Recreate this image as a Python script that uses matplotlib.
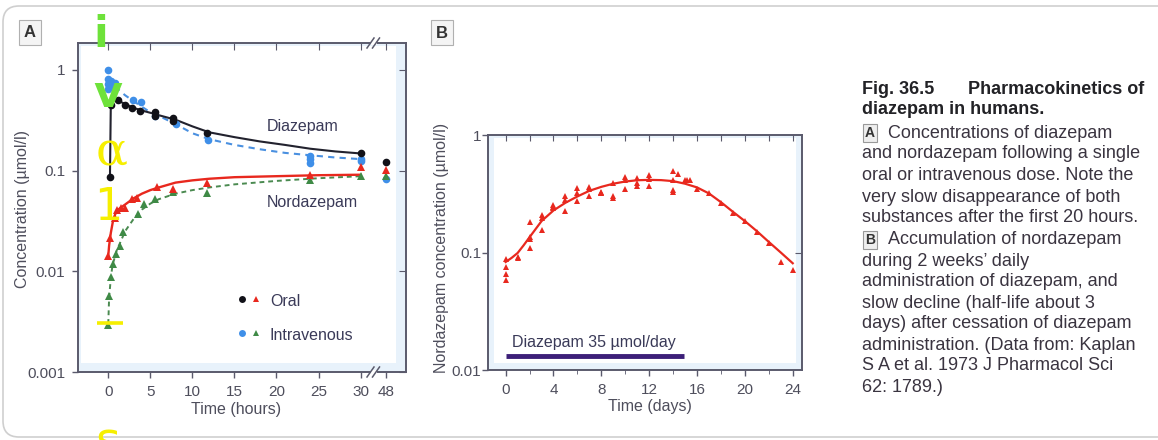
import numpy as np
import matplotlib
matplotlib.use('Agg')
import matplotlib.pyplot as plt
from matplotlib.patches import FancyBboxPatch, Rectangle

W, H = 1158, 440
plt.rcParams['font.family'] = ['Liberation Sans', 'DejaVu Sans']

# ---------------- Panel A data (hours, umol/l) ----------------
hour_ticks = [0, 5, 10, 15, 20, 25, 30, 48]

oral_dz_t = [0.2, 0.3, 1.2, 2.0, 2.8, 3.8, 5.6, 5.6, 7.7, 7.7, 11.7, 30, 48]
oral_dz_c = [0.087, 0.45, 0.50, 0.45, 0.42, 0.39, 0.38, 0.35, 0.33, 0.31, 0.235, 0.148, 0.123]

iv_dz_t = [0, 0, 0, 0, 0.3, 0.5, 0.8, 2.9, 3.9, 5.6, 8, 11.8, 24, 24, 24, 30, 30, 48]
iv_dz_c = [1.0, 0.81, 0.72, 0.65, 0.78, 0.68, 0.74, 0.50, 0.48, 0.35, 0.29, 0.20,
           0.14, 0.13, 0.12, 0.13, 0.125, 0.083]

oral_nd_t = [0, 0.25, 0.75, 1.0, 1.5, 2.0, 2.8, 3.4, 5.8, 7.7, 11.7, 24, 30, 48]
oral_nd_c = [0.0143, 0.0214, 0.034, 0.041, 0.043, 0.043, 0.052, 0.054, 0.069, 0.065,
             0.075, 0.091, 0.109, 0.102]

iv_nd_t = [0, 0.12, 0.32, 0.52, 0.92, 1.4, 1.8, 3.5, 4.2, 5.6, 7.7, 11.7, 24, 30, 48]
iv_nd_c = [0.0029, 0.0057, 0.0087, 0.0118, 0.0149, 0.018, 0.0244, 0.037, 0.047, 0.052,
           0.061, 0.060, 0.080, 0.088, 0.089]

# fitted curves
oral_dz_fit_t = [0.2, 0.3, 0.6, 1, 2, 3, 4, 5, 6, 8, 10, 12, 15, 18, 21, 24, 27, 30]
oral_dz_fit_c = [0.087, 0.45, 0.53, 0.50, 0.46, 0.42, 0.395, 0.375, 0.355, 0.32, 0.275,
                 0.24, 0.215, 0.195, 0.18, 0.165, 0.155, 0.148]
iv_dz_fit_t = [0, 0.5, 1, 2, 3, 4, 5, 6, 8, 10, 12, 15, 18, 21, 24, 27, 30]
iv_dz_fit_c = [0.85, 0.75, 0.66, 0.56, 0.49, 0.43, 0.38, 0.35, 0.29, 0.235, 0.205, 0.18,
               0.163, 0.15, 0.142, 0.135, 0.13]
oral_nd_fit_t = [0, 0.1, 0.3, 0.6, 1, 1.5, 2, 3, 4, 5, 6, 8, 10, 12, 15, 20, 25, 30]
oral_nd_fit_c = [0.0143, 0.018, 0.024, 0.033, 0.040, 0.043, 0.046, 0.053, 0.059, 0.064,
                 0.068, 0.076, 0.080, 0.083, 0.086, 0.088, 0.090, 0.091]
iv_nd_fit_t = [0, 0.1, 0.3, 0.5, 1, 1.5, 2, 3, 4, 5, 6, 8, 10, 12, 15, 20, 25, 30]
iv_nd_fit_c = [0.003, 0.0055, 0.0085, 0.0115, 0.016, 0.020, 0.025, 0.033, 0.041, 0.047,
               0.052, 0.059, 0.064, 0.068, 0.073, 0.079, 0.084, 0.088]

# ---------------- Panel B data (days, umol/l) ----------------
day_ticks = [0, 4, 8, 12, 16, 20, 24]
b_days = [0, 0, 0, 0, 1, 1, 2, 2, 2, 2, 3, 3, 3, 4, 4, 4, 5, 5, 5, 6, 6, 6, 7, 7, 7,
          8, 8, 8, 9, 9, 9, 10, 10, 10, 11, 11, 11, 12, 12, 12, 14, 14, 14, 14, 14.4,
          15, 15.2, 15.4, 16, 17, 18, 19, 20, 21, 22, 23, 24]
b_conc = [0.0875, 0.076, 0.066, 0.058, 0.092, 0.090, 0.183, 0.135, 0.11, 0.13,
          0.209, 0.195, 0.155, 0.254, 0.238, 0.245, 0.30, 0.28, 0.227, 0.352, 0.32,
          0.276, 0.363, 0.345, 0.30, 0.32, 0.32, 0.33, 0.39, 0.30, 0.29, 0.44, 0.41,
          0.35, 0.43, 0.39, 0.37, 0.457, 0.42, 0.37, 0.49, 0.41, 0.34, 0.33, 0.47,
          0.41, 0.41, 0.41, 0.35, 0.32, 0.262, 0.215, 0.185, 0.15, 0.121, 0.0835, 0.071]
b_fit_days = [0, 0.5, 1, 1.5, 2, 3, 4, 5, 6, 7, 8, 9, 10, 11, 12, 13, 14, 15, 16, 17,
              18, 19, 20, 21, 22, 23, 24]
b_fit_conc = [0.083, 0.09, 0.099, 0.115, 0.135, 0.185, 0.228, 0.265, 0.30, 0.335,
              0.362, 0.385, 0.402, 0.412, 0.415, 0.413, 0.405, 0.385, 0.358, 0.318,
              0.268, 0.222, 0.185, 0.152, 0.123, 0.10, 0.081]
dose_start, dose_end = 0, 14.9
dose_label = 'Diazepam 35 µmol/day'


def xpos(t):
    t = np.asarray(t, dtype=float)
    return np.where(t > 30, 33.0, t)


fig = plt.figure(figsize=(W / 100, H / 100), dpi=100)

# background axes in pixel coordinates
bg = fig.add_axes([0, 0, 1, 1], zorder=-5)
bg.set_xlim(0, W)
bg.set_ylim(H, 0)
bg.axis('off')
bg.add_patch(FancyBboxPatch((3, 6), 1250, 431, boxstyle='round,pad=0,rounding_size=16',
                            fc='white', ec='#cfcfcf', lw=1.2))

axis_col = '#5a5a6c'
tick_col = '#4e4e5c'
glow = '#e8f2fb'


def style(ax):
    for s in ax.spines.values():
        s.set_color(axis_col)
        s.set_linewidth(1.4)
    ax.tick_params(colors=axis_col, labelcolor=tick_col, labelsize=11, width=1.0)


# ---------------- Panel A ----------------
axA = fig.add_axes([78 / W, 1 - 372 / H, 328 / W, 329 / H])
axA.set_yscale('log')
axA.set_xlim(-3.6, 35.4)
axA.set_ylim(0.001, 1.85)
style(axA)
for (x0, y0, w, h) in [(0, 0, 1, 9 / 329), (1 - 10 / 328, 0, 10 / 328, 1),
                       (0, 1 - 3 / 329, 1, 3 / 329), (0, 0, 3 / 328, 1)]:
    axA.add_patch(Rectangle((x0, y0), w, h, transform=axA.transAxes, fc=glow,
                            ec='none', zorder=0))

axA.plot(xpos(oral_dz_fit_t), oral_dz_fit_c, color='#22222e', lw=1.5, zorder=3)
axA.plot(xpos(iv_dz_fit_t), iv_dz_fit_c, color='#4a90e0', lw=1.5, dashes=(3, 2.5), zorder=2)
axA.plot(xpos(oral_nd_fit_t), oral_nd_fit_c, color='#e8281e', lw=1.7, zorder=3)
axA.plot(xpos(iv_nd_fit_t), iv_nd_fit_c, color='#4a8a50', lw=1.4, dashes=(2.5, 2), zorder=2)

axA.plot(xpos(iv_dz_t), iv_dz_c, 'o', color='#3f8fe8', ms=5.5, mew=0, zorder=4)
axA.plot(xpos(oral_dz_t), oral_dz_c, 'o', color='#111118', ms=5.5, mew=0, zorder=5)
axA.plot(xpos(iv_nd_t), iv_nd_c, '^', color='#3f8a46', ms=5.5, mew=0, zorder=4)
axA.plot(xpos(oral_nd_t), oral_nd_c, '^', color='#e8281e', ms=5.5, mew=0, zorder=5)

axA.set_xticks(xpos(hour_ticks))
axA.set_xticklabels([str(h) for h in hour_ticks])
axA.set_yticks([0.001, 0.01, 0.1, 1])
axA.set_yticklabels(['0.001', '0.01', '0.1', '1'])
axA.minorticks_off()
axA.tick_params(direction='out', length=4, pad=5)
axA.set_xlabel('Time (hours)', fontsize=11.5, color=tick_col)
axA.set_ylabel('Concentration (µmol/l)', fontsize=11.5, color=tick_col)
axA.xaxis.set_label_coords(0.482, -0.09)
axA.yaxis.set_label_coords(-0.145, 0.495)

axA.text(0.576, 0.745, 'Diazepam', transform=axA.transAxes, fontsize=11.5,
         color='#3a3a58', va='center')
axA.text(0.576, 0.514, 'Nordazepam', transform=axA.transAxes, fontsize=11.5,
         color='#3a3a58', va='center')
# legend
axA.plot([0.501], [0.222], 'o', color='#111118', ms=5, mew=0, transform=axA.transAxes)
axA.plot([0.543], [0.222], '^', color='#e8281e', ms=5, mew=0, transform=axA.transAxes)
axA.plot([0.501], [0.1185], 'o', color='#3f8fe8', ms=5, mew=0, transform=axA.transAxes)
axA.plot([0.543], [0.1185], '^', color='#3f8a46', ms=5, mew=0, transform=axA.transAxes)
axA.text(0.585, 0.214, 'Oral', transform=axA.transAxes, fontsize=11.5, color='#3a3a58',
         va='center')
axA.text(0.585, 0.11, 'Intravenous', transform=axA.transAxes, fontsize=11.5,
         color='#3a3a58', va='center')

# inward ticks on top and right
axAt = axA.twiny()
axAt.set_xlim(axA.get_xlim())
axAt.set_xticks(xpos(hour_ticks))
axAt.set_xticklabels([])
axAt.tick_params(direction='in', length=5, colors=axis_col)
axAr = axA.twinx()
axAr.set_yscale('log')
axAr.set_ylim(axA.get_ylim())
axAr.set_yticks([0.001, 0.01, 0.1, 1])
axAr.set_yticklabels([])
axAr.minorticks_off()
axAr.tick_params(direction='in', length=5, colors=axis_col)
for a in (axAt, axAr):
    for s in a.spines.values():
        s.set_visible(False)

# ---------------- Panel B ----------------
axB = fig.add_axes([488.3 / W, 1 - 370 / H, 313.4 / W, 235 / H])
axB.set_yscale('log')
axB.set_xlim(-1.45, 24.75)
axB.set_ylim(0.01, 1)
style(axB)
for (x0, y0, w, h) in [(0, 0, 1, 7 / 235), (1 - 6 / 313, 0, 6 / 313, 1),
                       (0, 1 - 3 / 235, 1, 3 / 235), (0, 0, 6 / 313, 1)]:
    axB.add_patch(Rectangle((x0, y0), w, h, transform=axB.transAxes, fc=glow,
                            ec='none', zorder=0))
axB.plot(b_fit_days, b_fit_conc, color='#e8281e', lw=1.6, zorder=3)
axB.plot(b_days, b_conc, '^', color='#e8281e', ms=4.2, mew=0, zorder=4)
axB.plot([dose_start, dose_end], [0.01315, 0.01315], color='#3c1f78', lw=3.5,
         solid_capstyle='butt', zorder=3)
axB.text(dose_start + 0.5, 0.0172, dose_label, fontsize=11.5, color='#3a3a58', va='center')
axB.set_xticks(day_ticks)
axB.set_xticks(np.arange(0, 25, 2), minor=True)
axB.set_yticks([0.01, 0.1, 1])
axB.set_yticklabels(['0.01', '0.1', '1'])
axB.yaxis.set_minor_locator(matplotlib.ticker.NullLocator())
axB.tick_params(direction='out', length=4)
axB.tick_params(axis='x', which='minor', direction='out', length=3, color=axis_col)
axB.tick_params(axis='x', pad=5)
axB.tick_params(axis='y', pad=1)
axB.set_xlabel('Time (days)', fontsize=11.5, color=tick_col)
axB.set_ylabel('Nordazepam concentration (µmol/l)', fontsize=11.5, color=tick_col)
axB.xaxis.set_label_coords(0.516, -0.125)
axB.yaxis.set_label_coords(-0.125, 0.519)
axBt = axB.twiny()
axBt.set_xlim(axB.get_xlim())
axBt.set_xticks(np.arange(0, 25, 2))
axBt.set_xticklabels([])
axBt.tick_params(direction='in', length=4, colors=axis_col)
axBr = axB.twinx()
axBr.set_yscale('log')
axBr.set_ylim(axB.get_ylim())
axBr.set_yticks([0.1])
axBr.set_yticklabels([])
axBr.yaxis.set_minor_locator(matplotlib.ticker.NullLocator())
axBr.tick_params(direction='in', length=5, colors=axis_col)
for a in (axBt, axBr):
    for s in a.spines.values():
        s.set_visible(False)

# ---------------- text in pixel coords ----------------
bg.text(29.5, 32.5, 'A', fontsize=12, fontweight='bold', color='#333', ha='center',
        va='center', bbox=dict(boxstyle='square,pad=0.3', fc='#f4f4f4', ec='#b0b0b0', lw=0.8))
bg.text(442, 33, 'B', fontsize=12, fontweight='bold', color='#333', ha='center',
        va='center', bbox=dict(boxstyle='square,pad=0.3', fc='#f4f4f4', ec='#b0b0b0', lw=0.8))

cap_col = '#3a3440'
x0 = 862
bg.text(x0, 90, 'Fig. 36.5', fontsize=13, fontweight='bold', color='#222226', va='center')
bg.text(968, 90, 'Pharmacokinetics of', fontsize=13, fontweight='bold',
        color='#222226', va='center')
bg.text(x0, 110, 'diazepam in humans.', fontsize=13, fontweight='bold',
        color='#222226', va='center')
lines = [
    (133, 'A', 'Concentrations of diazepam'),
    (154, None, 'and nordazepam following a single'),
    (175, None, 'oral or intravenous dose. Note the'),
    (197, None, 'very slow disappearance of both'),
    (218, None, 'substances after the first 20 hours.'),
    (240, 'B', 'Accumulation of nordazepam'),
    (261, None, 'during 2 weeks\u2019 daily'),
    (282, None, 'administration of diazepam, and'),
    (303, None, 'slow decline (half-life about 3'),
    (324, None, 'days) after cessation of diazepam'),
    (345, None, 'administration. (Data from: Kaplan'),
    (366, None, 'S A et al. 1973 J Pharmacol Sci'),
    (388, None, '62: 1789.)'),
]
for y, box, txt in lines:
    if box:
        bg.text(870, y, box, fontsize=10, fontweight='bold', color='#333', ha='center',
                va='center', bbox=dict(boxstyle='square,pad=0.12', fc='#eeeeee',
                                       ec='#999999', lw=0.8))
        bg.text(888, y, txt, fontsize=13, color=cap_col, va='center')
    else:
        bg.text(x0, y, txt, fontsize=13, color=cap_col, va='center')

# ---------------- overlay: axis breaks and coloured glyphs ----------------
ov = fig.add_axes([0, 0, 1, 1], zorder=20)
ov.set_xlim(0, W)
ov.set_ylim(H, 0)
ov.axis('off')
ov.patch.set_alpha(0)
for yb in (43, 372):
    ov.add_patch(Rectangle((370.5, yb - 2), 6, 4, fc='white', ec='none'))
    ov.plot([367, 374], [yb + 5, yb - 5], color=axis_col, lw=1.1)
    ov.plot([372.5, 379.5], [yb + 5, yb - 5], color=axis_col, lw=1.1)

green = '#6ee23a'
yellow = '#f6ef00'
ov.text(101, 47, 'i', fontsize=31, fontweight='bold', color=green, ha='center',
        va='baseline', family='DejaVu Sans')
ov.text(107.5, 107, 'v', fontsize=32, fontweight='bold', color=green, ha='center',
        va='baseline', family='DejaVu Sans')
ov.text(111.5, 165, '\u03b1', fontsize=34, color=yellow, ha='center', va='baseline',
        family='DejaVu Serif')
ov.text(108.5, 220, '1', fontsize=32, color=yellow, ha='center', va='baseline',
        family='DejaVu Sans')
ov.plot([97, 123], [323, 323], color=yellow, lw=2.6, solid_capstyle='butt')
ov.text(108, 455, 's', fontsize=34, color=yellow, ha='center', va='baseline',
        family='DejaVu Sans')

fig.savefig('out.png', dpi=100)
